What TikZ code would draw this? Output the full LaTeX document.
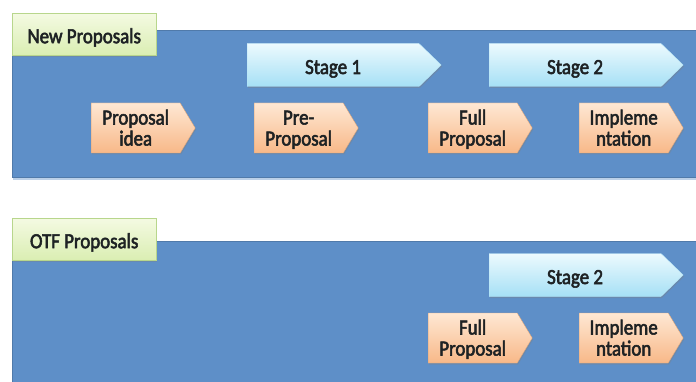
\documentclass[tikz,border=0pt]{standalone}
\usepackage{fontspec}
\setmainfont{Carlito}[FakeStretch=0.88,FakeBold=2.5]
\usetikzlibrary{shapes.symbols,shadows}

\definecolor{panelblue}{RGB}{94,143,200}
\definecolor{tagtop}{RGB}{244,250,226}
\definecolor{tagbot}{RGB}{218,238,178}
\definecolor{tagedge}{RGB}{184,214,140}
\definecolor{stagetop}{RGB}{236,250,254}
\definecolor{stagebot}{RGB}{166,224,245}
\definecolor{steptop}{RGB}{254,232,212}
\definecolor{stepbot}{RGB}{248,184,136}
\definecolor{inktext}{RGB}{30,34,36}

% two stacked lines, 21pt apart
\newcommand{\duo}[2]{\lineskiplimit=-50pt\relax
  \rule{0pt}{20pt}#1\\#2\rule[-6pt]{0pt}{6pt}}

\tikzset{
  panel/.style={fill=panelblue, draw=panelblue!85!black, line width=0.5pt},
  tag/.style={draw=tagedge, top color=tagtop, bottom color=tagbot,
    minimum width=144, minimum height=42, inner sep=0pt, anchor=north west,
    text height=18pt, text depth=0pt, text=inktext,
    drop shadow={shadow xshift=1pt, shadow yshift=-1.5pt, opacity=0.35}},
  stage/.style={signal, signal to=east, signal pointer angle=88,
    top color=stagetop, bottom color=stagebot, draw=stagebot!80!white,
    minimum width=194, minimum height=43, inner sep=0pt, anchor=west,
    text height=18pt, text depth=0pt, text=inktext,
    drop shadow={shadow xshift=1pt, shadow yshift=-1.5pt, opacity=0.35}},
  phase/.style={signal, signal to=east, signal pointer angle=118,
    top color=steptop, bottom color=stepbot, draw=stepbot!90!black,
    minimum width=104, minimum height=50, inner sep=0pt, anchor=west,
    align=center, text=inktext,
    drop shadow={shadow xshift=1pt, shadow yshift=-1.5pt, opacity=0.35}}
}

\begin{document}
\begin{tikzpicture}[x=1pt,y=-1pt,font=\fontsize{21.5}{21}\selectfont]
\useasboundingbox (0,0) rectangle (696,382);

% new proposals
\fill[panelblue!70!white,opacity=0.6] (13,178) rectangle (696,180);
\draw[panel] (12,30) rectangle (697,177);
\node[tag] (newtag) at (12,13) {New Proposals};
\node[stage] (stageA) at (247,65) {Stage 1};
\node[stage] (stageB) at (489,65) {Stage 2};
\node[phase] (idea) at (91,128) {\duo{Proposal}{idea}};
\node[phase] (pre) at (254,128) {\duo{Pre-}{Proposal}};
\node[phase] (full) at (428,128) {\duo{Full}{Proposal}};
\node[phase] (impl) at (579,128) {\duo{Impleme}{ntation}};

% otf proposals
\draw[panel] (12,241) rectangle (697,383);
\node[tag] (otftag) at (12,218) {OTF Proposals};
\node[stage] (otfstage) at (489,275) {Stage 2};
\node[phase] (otffull) at (428,338) {\duo{Full}{Proposal}};
\node[phase] (otfimpl) at (579,338) {\duo{Impleme}{ntation}};
\end{tikzpicture}
\end{document}
